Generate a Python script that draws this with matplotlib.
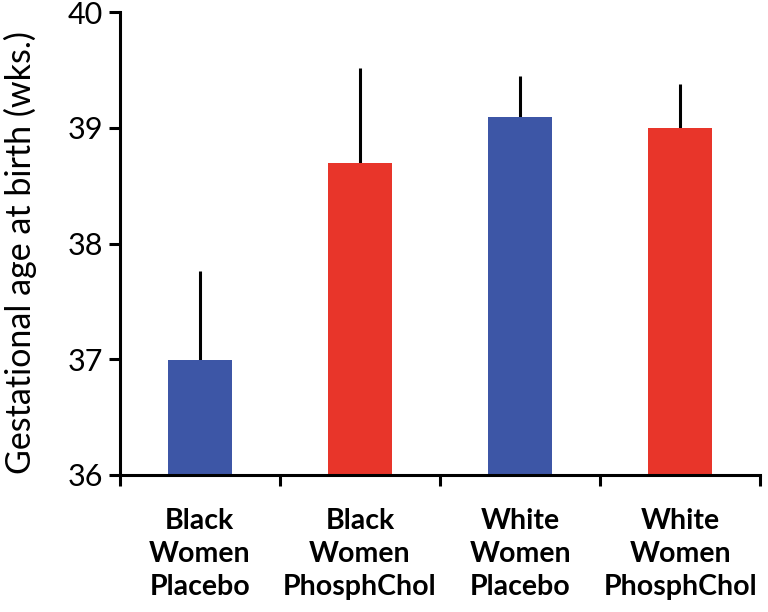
import matplotlib
matplotlib.use("Agg")
import matplotlib.pyplot as plt

# values
groups = ["Black\nWomen\nPlacebo", "Black\nWomen\nPhosphChol",
          "White\nWomen\nPlacebo", "White\nWomen\nPhosphChol"]
ga_mean = [36.99, 38.70, 39.09, 39.00]
ga_err = [0.77, 0.82, 0.36, 0.38]
bar_colors = ["#3D56A6", "#E8352A", "#3D56A6", "#E8352A"]

plt.rcParams['font.family'] = ['Lato', 'DejaVu Sans']

fig = plt.figure(figsize=(7.68, 6.12), dpi=100)
ax = fig.add_axes([0.156, 0.224, 0.834, 0.756])

x = range(len(groups))
ax.bar(x, ga_mean, width=0.4, color=bar_colors, zorder=2)
ax.errorbar(x, ga_mean, yerr=[[0] * len(ga_err), ga_err], fmt='none',
            ecolor='black', elinewidth=2.2, capsize=0, zorder=1)

ax.set_ylim(36, 40)
ax.set_xlim(-0.5, 3.5)
ax.set_yticks([36, 37, 38, 39, 40])
ax.set_xticks([i - 0.5 for i in range(len(groups) + 1)], minor=False)
ax.set_xticklabels([])
ax.set_xticks(list(x), minor=True)
ax.set_xticklabels(groups, minor=True, fontsize=20.5, fontweight='bold',
                   linespacing=1.32)
ax.tick_params(axis='x', which='minor', length=0, pad=24)
ax.tick_params(axis='x', which='major', length=8, width=2.2, direction='out')
ax.tick_params(axis='y', length=8, width=2.2, labelsize=22, pad=4)
ax.set_ylabel("Gestational age at birth (wks.)", fontsize=24.5)
ax.yaxis.set_label_coords(-0.13, 0.48)

for side in ['top', 'right']:
    ax.spines[side].set_visible(False)
for side in ['left', 'bottom']:
    ax.spines[side].set_linewidth(2.2)

fig.savefig("out.png", dpi=100)
